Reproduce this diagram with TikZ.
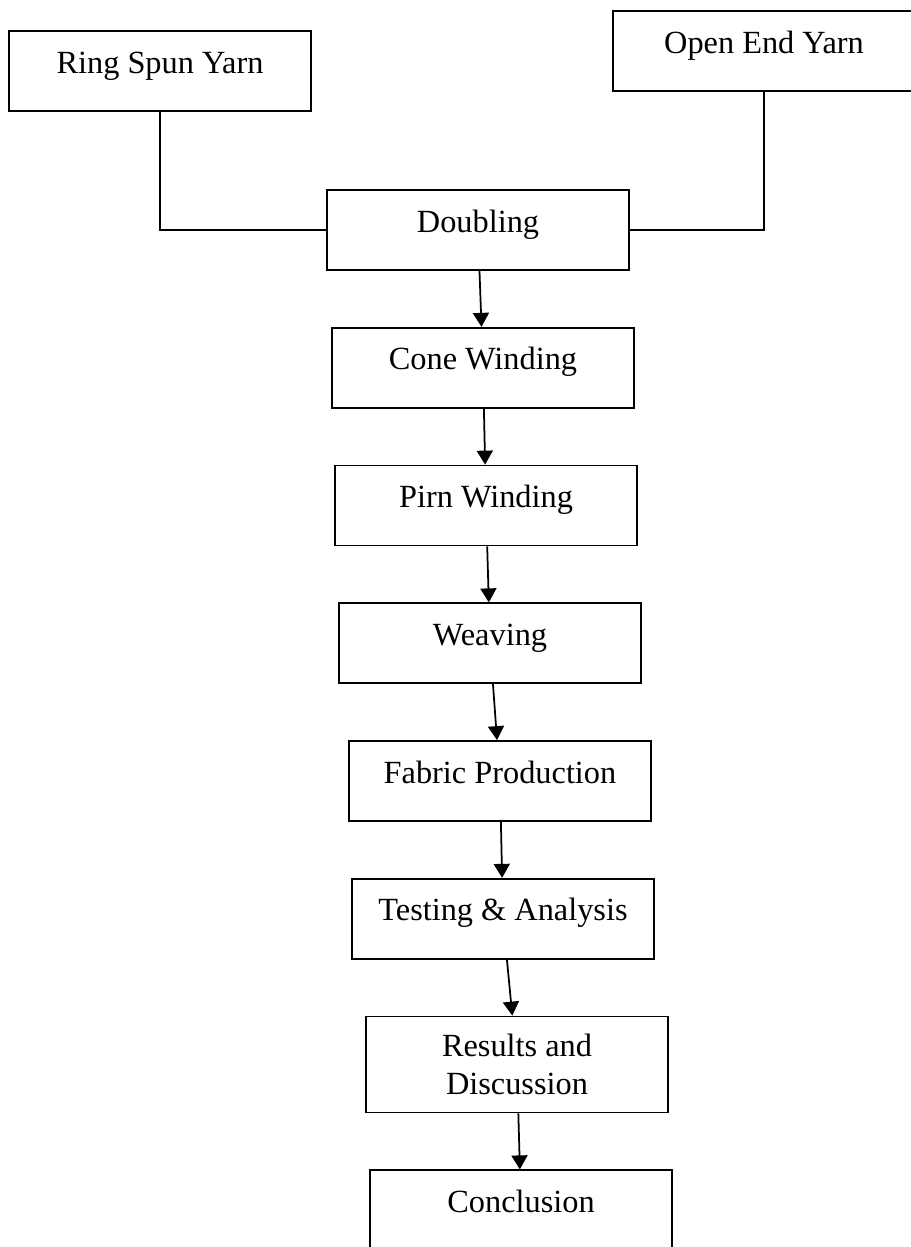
\documentclass[tikz,border=0pt]{standalone}
\usepackage{fontspec}
\setmainfont{Liberation Serif}
\usetikzlibrary{positioning,arrows.meta}

\begin{document}
\begin{tikzpicture}[x=0.2mm, y=-0.2mm, line width=0.35mm, node distance=11.2mm,
  >={Triangle[width=3.2mm,length=2.8mm]},
  main/.style = {draw, inner sep=0pt, minimum width=60.4mm, font=\fontsize{18.4}{21.6}\selectfont},
  stepbox/.style = {main, text height=8.4mm, text depth=7.6mm},
  tallbox/.style = {main, align=center, minimum height=19.2mm}]
\useasboundingbox (0,0) rectangle (910,1247);
\node[stepbox] (1) at (160,71) {Ring Spun Yarn};
\node[stepbox] (2) at (764,51) {Open End Yarn};
\node[stepbox] (3) at (478,230) {Doubling};
\node[stepbox] (4) [below=of 3, xshift=1mm] {Cone Winding};
\node[stepbox] (5) [below=of 4, xshift=0.6mm] {Pirn Winding};
\node[stepbox] (6) [below=of 5, xshift=0.8mm] {Weaving};
\node[stepbox] (7) [below=of 6, xshift=2mm] {Fabric Production};
\node[stepbox] (8) [below=of 7, xshift=0.6mm] {Testing \& Analysis};
\node[tallbox] (9) [below=of 8, xshift=2.8mm] {Results and\\Discussion};
\node[stepbox] (10) [below=of 9, xshift=0.8mm] {Conclusion};
\draw (1) |- (3);
\draw (2) |- (3);
\draw[->] (3) -- (4);
\draw[->] (4) -- (5);
\draw[->] (5) -- (6);
\draw[->] (6) -- (7);
\draw[->] (7) -- (8);
\draw[->] (8) -- (9);
\draw[->] (9) -- (10);
\end{tikzpicture}
\end{document}
